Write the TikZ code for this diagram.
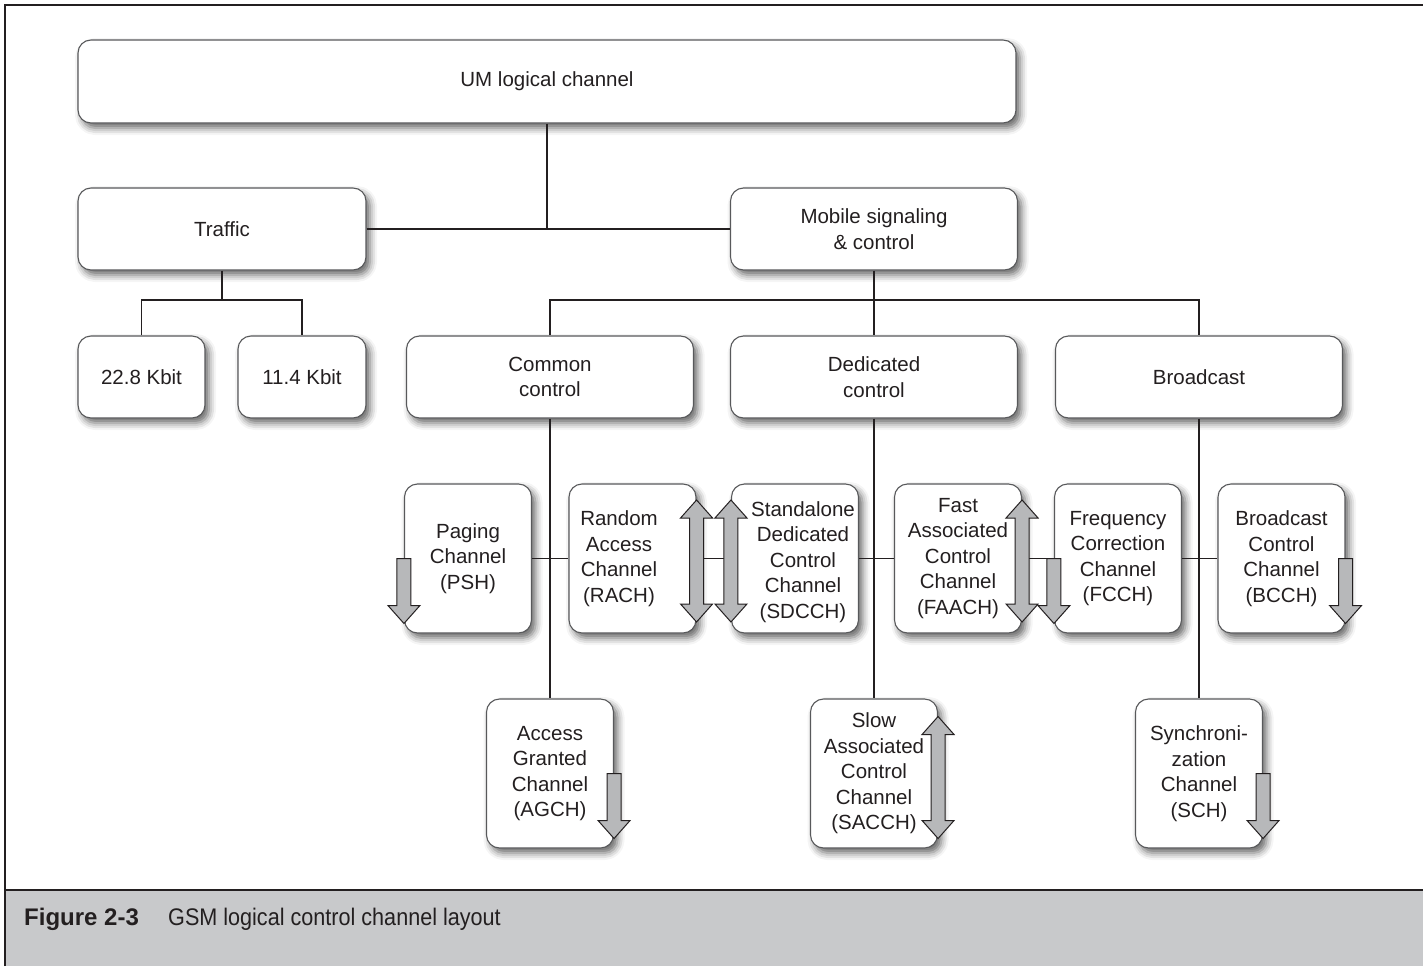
\documentclass[tikz,border=0pt]{standalone}
\usepackage{fontspec}
\setmainfont{Liberation Sans}
\newfontfamily\capfont[FakeStretch=0.9]{Liberation Sans}
\usetikzlibrary{shadows.blur,calc}
\definecolor{ink}{HTML}{231F20}
\definecolor{boxline}{HTML}{58595B}
\definecolor{arrowgray}{HTML}{B7B8BA}
\definecolor{capgray}{HTML}{C8C9CB}
\begin{document}
\begin{tikzpicture}[x=1pt,y=-1pt,
  box/.style={draw=boxline, line width=1.1pt, fill=white, rounded corners=13pt,
    align=center, text=ink, font=\fontsize{20.5}{25.5}\selectfont, inner sep=0pt,
    blur shadow={shadow xshift=4pt, shadow yshift=-5pt, shadow blur radius=7pt, shadow opacity=60}},
  topbox/.style={box, minimum height=82pt, minimum width=287pt},
  smallbox/.style={box, minimum height=82pt, minimum width=127pt},
  chan/.style={box, minimum width=127pt, minimum height=149pt},
  chantext/.style={align=center, text=ink, font=\fontsize{20.5}{25.5}\selectfont, inner sep=0pt},
  wire/.style={draw=ink, line width=1.7pt},
  arrowfill/.style={fill=arrowgray, draw=ink, line width=1pt, line join=miter},
  dnarr/.pic={\path[arrowfill] (-7,0) -- (7,0) -- (7,47) -- (16,47) -- (0,65) -- (-16,47) -- (-7,47) -- cycle;},
  udarr/.pic={\path[arrowfill] (0,-61) -- (16,-43) -- (7,-43) -- (7,43) -- (16,43) -- (0,61) -- (-16,43) -- (-7,43) -- (-7,-43) -- (-16,-43) -- cycle;}
]
\useasboundingbox (0,0) rectangle (1423,966);
% caption band and frame
\fill[capgray] (5,890) rectangle (1423,966);
\draw[draw=ink, line width=2.5pt] (1423,890) -- (5,890);
\draw[draw=ink, line width=2.5pt] (5,966) -- (5,5) -- (1423,5);
\node[anchor=base west, inner sep=0pt, text=ink, font=\bfseries\fontsize{24}{28}\selectfont] (figlbl) at (24,925) {Figure 2-3};
\node[anchor=base west, inner sep=0pt, text=ink, font=\capfont\fontsize{24}{28}\selectfont] (figcap) at (168,925) {GSM logical control channel layout};

% top levels
\node[box, minimum width=938pt, minimum height=83pt] (um) at (547,81.5) {UM logical channel};
\node[topbox, minimum width=288pt] (traffic) at (222,229) {Traffic};
\node[topbox] (mob) at (874,229) {Mobile signaling\\\& control};
\node[smallbox] (k22) at (141.5,377) {22.8 Kbit};
\node[smallbox, minimum width=128pt] (k11) at (302,377) {11.4 Kbit};
\node[topbox] (common) at (550,377) {Common\\control};
\node[topbox] (ded) at (874,377) {Dedicated\\control};
\node[topbox] (bcast) at (1199,377) {Broadcast};

% third row
\node[chan] (paging) at (468,558.5) {Paging\\Channel\\(PSH)};
\node[chan] (rach) at (632.5,558.5) {};
\node[chantext] (rachT) at (619,558.5) {Random\\Access\\Channel\\(RACH)};
\node[chan] (sdcch) at (795,558.5) {};
\node[chantext] (sdcchT) at (803,562) {Standalone\\Dedicated\\Control\\Channel\\(SDCCH)};
\node[chan] (faach) at (958,558.5) {Fast\\Associated\\Control\\Channel\\(FAACH)};
\node[chan] (fcch) at (1118,558.5) {Frequency\\Correction\\Channel\\(FCCH)};
\node[chan] (bcch) at (1281.5,558.5) {Broadcast\\Control\\Channel\\(BCCH)};

% fourth row
\node[chan] (agch) at (550,773.5) {Access\\Granted\\Channel\\(AGCH)};
\node[chan] (sacch) at (874,773.5) {Slow\\Associated\\Control\\Channel\\(SACCH)};
\node[chan] (sch) at (1199,773.5) {Synchroni-\\zation\\Channel\\(SCH)};

% connectors
\coordinate (tbar) at (222,300);
\coordinate (mbar) at (874,300);
\draw[wire] (um.south) -- (um.south |- traffic.east);
\draw[wire] (traffic.east) -- (mob.west);
\draw[wire] (traffic.south) -- (tbar);
\draw[wire] (k22.north) |- (tbar) -| (k11.north);
\draw[wire] (mob.south) -- (ded.north);
\draw[wire] (common.north) |- (mbar) -| (bcast.north);
\draw[wire] (common.south) -- (agch.north);
\draw[wire] (ded.south) -- (sacch.north);
\draw[wire] (bcast.south) -- (sch.north);
\draw[wire] (paging.east) -- (rach.west);
\draw[wire] (rach.east) -- (sdcch.west);
\draw[wire] (sdcch.east) -- (faach.west);
\draw[wire] (faach.east) -- (fcch.west);
\draw[wire] (fcch.east) -- (bcch.west);

% direction arrows
\pic at (paging.west) {dnarr};
\pic at ($(rach.east)+(0,2.5)$) {udarr};
\pic at ($(sdcch.west)+(0,2.5)$) {udarr};
\pic at ($(faach.east)+(0,2.5)$) {udarr};
\pic at (fcch.west) {dnarr};
\pic at (bcch.east) {dnarr};
\pic at (agch.east) {dnarr};
\pic at ($(sacch.east)+(0,4)$) {udarr};
\pic at (sch.east) {dnarr};
\end{tikzpicture}
\end{document}
